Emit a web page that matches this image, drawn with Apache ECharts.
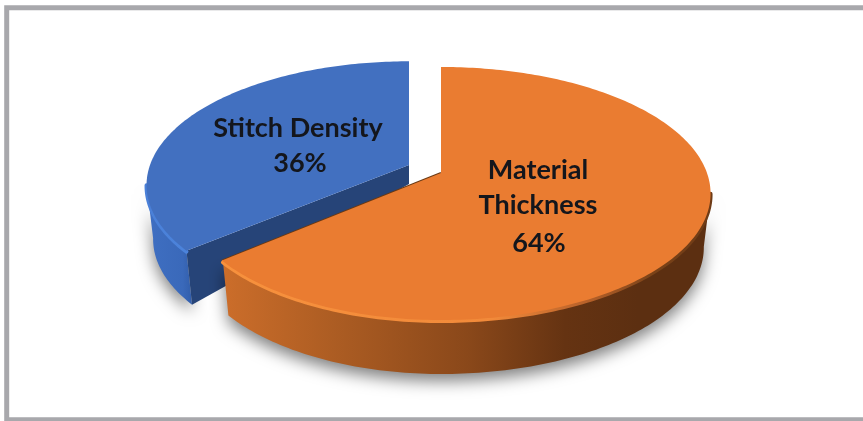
<!DOCTYPE html>
<html><head><meta charset="utf-8">
<script src="https://cdn.jsdelivr.net/npm/echarts@6/dist/echarts.min.js"></script>
<style>html,body{margin:0;padding:0;background:#fff}#c{width:863px;height:421px;filter:blur(.5px)}</style>
</head><body><div id="c"></div>
<script>
// Drawn back to front; angles run backward from the top of the pie.
var categories = ['Stitch Density', 'Material Thickness'];
var values = [36, 64];
var labelLines = [['Stitch Density'], ['Material', 'Thickness']];

var total = values.reduce(function (a, b) { return a + b; }, 0);
var E = 0.162, DEPTH = 54;
var looks = [
  { ax: 409, ay: 165, aL: 259, aR: 259, b: 120.5, top: '#4270C0', lx: 298, ly: 128, pctX: 300, pctY: 163,
    wall: [[0, '#3F6FC2'], [0.75, '#3A69BA'], [1, '#2F5AA6']], gx0: 146, gx1: 195,
    rim: [[0, '#4A80D8'], [1, '#4C84DC']], hl: [230, 261], inner: '#264478' },
  { ax: 441, ay: 173, aL: 255, aR: 266, b: 123.2, top: '#EA7C31', lx: 538, ly: 170, pctX: 539, pctY: 243,
    wall: [[0, '#CB6D2A'], [0.22, '#AD5D23'], [0.5, '#8A481A'], [0.7, '#653312'], [0.85, '#5C2F11'], [1, '#5C2F11']], gx0: 225, gx1: 711,
    rim: [[0, '#F7913D'], [0.55, '#F28A3A'], [0.74, '#B9622A'], [0.88, '#7A4218'], [1, '#6E3B16']], hl: [99, 230], inner: null }
];

function rimPoint(k, deg, dz) {
  var t = deg * Math.PI / 180, u = Math.sin(t), v = Math.cos(t), w = 1 + E * v;
  var a = u < 0 ? k.aL : k.aR;
  var s = dz ? 0.975 : 1;
  return [k.ax + s * a * u / w, k.ay - k.b * v / w + (dz || 0)];
}
function arc(k, from, to, dz) {
  var pts = [], n = Math.ceil(Math.abs(to - from));
  for (var i = 0; i <= n; i++) pts.push(rimPoint(k, from + (to - from) * i / n, dz));
  return pts;
}
function grad(x0, x1, stops) {
  return new echarts.graphic.LinearGradient(x0, 0, x1, 0,
    stops.map(function (s) { return { offset: s[0], color: s[1] }; }), true);
}
function txt(x, y, s) {
  return { type: 'text', z2: 20, style: { x: x, y: y, text: s, fill: '#14161c', align: 'center', verticalAlign: 'middle',
    font: '700 27px Lato, sans-serif' } };
}
function renderItem(params, api) {
  var idx = params.dataIndex, k = looks[idx], share = api.value(0) / total;
  var before = 0;
  for (var i = 0; i < idx; i++) before += values[i];
  var end = 360 - before / total * 360, start = end - share * 360;
  var topArc = arc(k, start, end);
  var lo = Math.max(start, k.hl[0]), hi = Math.min(end, k.hl[1]);
  // the near part of the rim carries the visible side wall
  var wallTop = arc(k, lo, hi), wallBot = arc(k, lo, hi, DEPTH).reverse();
  var base = idx * 10, kids = [];
  kids.push({ type: 'polygon', z2: base + 1, shape: { points: wallTop.concat(wallBot) },
    style: { fill: grad(k.gx0, k.gx1, k.wall), shadowBlur: 16, shadowColor: 'rgba(0,0,0,.5)', shadowOffsetY: 7 } });
  if (k.inner) {
    var c = rimPoint(k, start), cb = rimPoint(k, start, DEPTH);
    kids.push({ type: 'polygon', z2: base + 2, shape: { points: [[k.ax, k.ay], c, cb, [k.ax, k.ay + DEPTH * 0.35]] },
      style: { fill: k.inner } });
  } else {
    kids.push({ type: 'polyline', z2: base + 2, shape: { points: [rimPoint(k, end), [k.ax, k.ay]] },
      style: { fill: null, stroke: '#6B3A14', lineWidth: 2 } });
  }
  kids.push({ type: 'polyline', z2: base + 3, shape: { points: wallTop.map(function (p) { return [p[0], p[1] + 1]; }) },
    style: { fill: null, stroke: grad(k.gx0, k.gx1, k.rim), lineWidth: 4, lineCap: 'round' } });
  kids.push({ type: 'polygon', z2: base + 4, shape: { points: topArc.concat([[k.ax, k.ay]]) },
    style: { fill: k.top } });
  labelLines[idx].forEach(function (s, j) { kids.push(txt(k.lx, k.ly + j * 35, s)); });
  kids.push(txt(k.pctX, k.pctY, api.value(0) + '%'));
  return { type: 'group', children: kids };
}
var chart = echarts.init(document.getElementById('c'));
chart.setOption({
  animation: false,
  backgroundColor: '#fff',
  graphic: [{ type: 'rect', silent: true, z: -1,
    shape: { x: 6.7, y: 7.7, width: 900, height: 412 },
    style: { fill: '#fff', stroke: '#A8A8AC', lineWidth: 5 } }],
  series: [{
    type: 'custom', coordinateSystem: 'none', renderItem: renderItem,
    data: categories.map(function (n, i) { return { name: n, value: [values[i]] }; })
  }]
});
</script></body></html>
